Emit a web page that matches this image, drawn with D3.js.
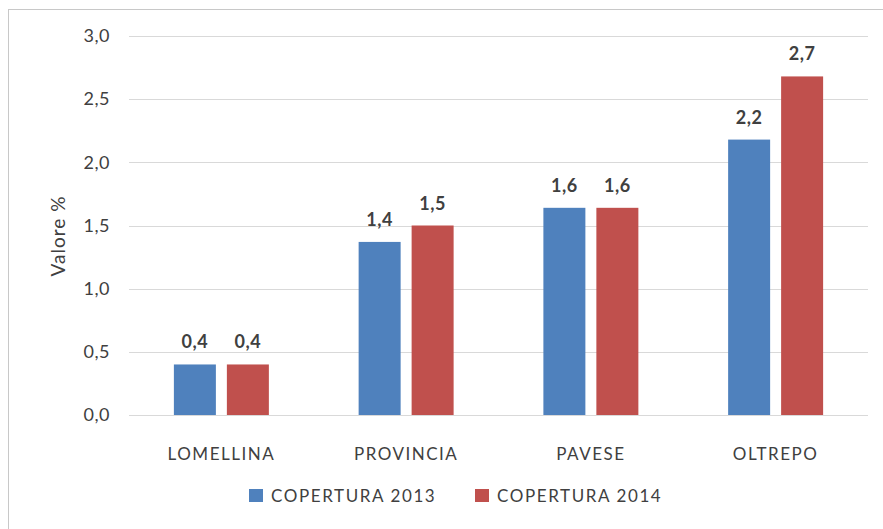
<!DOCTYPE html>
<html>
<head>
<script src="https://d3js.org/d3.v7.min.js"></script>
<style>
body { margin: 0; background: #fff; }
text { font-family: Lato, "Open Sans", sans-serif; fill: #404040; }
</style>
</head>
<body>
<div id="chart"></div>
<script>
var categories = ["LOMELLINA", "PROVINCIA", "PAVESE", "OLTREPO"];
var series = ["COPERTURA 2013", "COPERTURA 2014"];
var values2013 = [0.40, 1.37, 1.64, 2.18];
var values2014 = [0.40, 1.50, 1.64, 2.68];
var yTicks = [0, 0.5, 1, 1.5, 2, 2.5, 3];
var colors = ["#4F81BD", "#C0504D"];

var width = 883, height = 529;
var margin = {left: 129, right: 15, top: 36, bottom: 114};

var svg = d3.select("#chart").append("svg")
  .attr("width", width)
  .attr("height", height);

// chart frame
svg.append("rect")
  .attr("x", 8.5).attr("y", 9.5)
  .attr("width", width).attr("height", height)
  .attr("fill", "none")
  .attr("stroke", "#c8c8c8");

var x = d3.scaleBand()
  .domain(categories)
  .range([margin.left, width - margin.right]);

var x1 = d3.scaleBand()
  .domain(series)
  .range([0, x.bandwidth()])
  .paddingInner(0.2075)
  .paddingOuter(0.847);

var y = d3.scaleLinear()
  .domain([0, 3])
  .range([height - margin.bottom, margin.top]);

var fmt = function (v) { return d3.format(".1f")(v).replace(".", ","); };

// gridlines
svg.append("g")
  .selectAll("line")
  .data(yTicks)
  .enter().append("line")
  .attr("x1", margin.left)
  .attr("x2", width - margin.right)
  .attr("y1", function (d) { return Math.round(y(d)) + 0.5; })
  .attr("y2", function (d) { return Math.round(y(d)) + 0.5; })
  .attr("stroke", "#d9d9d9")
  .attr("stroke-width", 1);

// y axis labels
var yAxis = svg.append("g")
  .attr("transform", "translate(" + (margin.left - 19) + ",0)")
  .call(d3.axisLeft(y).tickValues(yTicks).tickFormat(fmt).tickSize(0).tickPadding(0));
yAxis.select(".domain").remove();
yAxis.selectAll("text")
  .style("font-family", "Lato, sans-serif")
  .style("font-size", "18px")
  .style("letter-spacing", "0.5px")
  .attr("fill", "#404040");

// x axis labels
var xAxis = svg.append("g")
  .attr("transform", "translate(0," + (height - margin.bottom) + ")")
  .call(d3.axisBottom(x).tickSize(0).tickPadding(33));
xAxis.select(".domain").remove();
xAxis.selectAll("text")
  .style("font-family", "Lato, sans-serif")
  .style("font-size", "17px")
  .style("letter-spacing", "1.5px")
  .attr("fill", "#404040");

// bars
var rows = categories.map(function (c, i) {
  return {cat: c, vals: [values2013[i], values2014[i]]};
});

var groups = svg.append("g")
  .selectAll("g")
  .data(rows)
  .enter().append("g")
  .attr("transform", function (d) { return "translate(" + x(d.cat) + ",0)"; });

groups.selectAll("rect")
  .data(function (d) { return d.vals.map(function (v, j) { return {s: series[j], v: v, j: j}; }); })
  .enter().append("rect")
  .attr("x", function (d) { return x1(d.s); })
  .attr("width", x1.bandwidth())
  .attr("y", function (d) { return y(d.v); })
  .attr("height", function (d) { return y(0) - y(d.v); })
  .attr("fill", function (d) { return colors[d.j]; });

groups.selectAll("text.val")
  .data(function (d) { return d.vals.map(function (v, j) { return {s: series[j], v: v}; }); })
  .enter().append("text")
  .attr("class", "val")
  .attr("x", function (d) { return x1(d.s) + x1.bandwidth() / 2; })
  .attr("y", function (d) { return y(d.v) - 16; })
  .attr("text-anchor", "middle")
  .style("font-size", "18px")
  .style("font-weight", "bold")
  .style("letter-spacing", "0.5px")
  .text(function (d) { return fmt(d.v); });

// y axis title
svg.append("text")
  .attr("transform", "translate(65,236) rotate(-90)")
  .attr("text-anchor", "middle")
  .style("font-size", "19px")
  .style("letter-spacing", "1px")
  .text("Valore %");

// legend
var legendX = [249, 475];
var legend = svg.append("g")
  .selectAll("g")
  .data(series)
  .enter().append("g")
  .attr("transform", function (d, i) { return "translate(" + legendX[i] + ",489)"; });
legend.append("rect")
  .attr("width", 14).attr("height", 13)
  .attr("fill", function (d, i) { return colors[i]; });
legend.append("text")
  .attr("x", 22).attr("y", 13)
  .style("font-size", "17px")
  .style("letter-spacing", "1.6px")
  .text(function (d) { return d; });
</script>
</body>
</html>
